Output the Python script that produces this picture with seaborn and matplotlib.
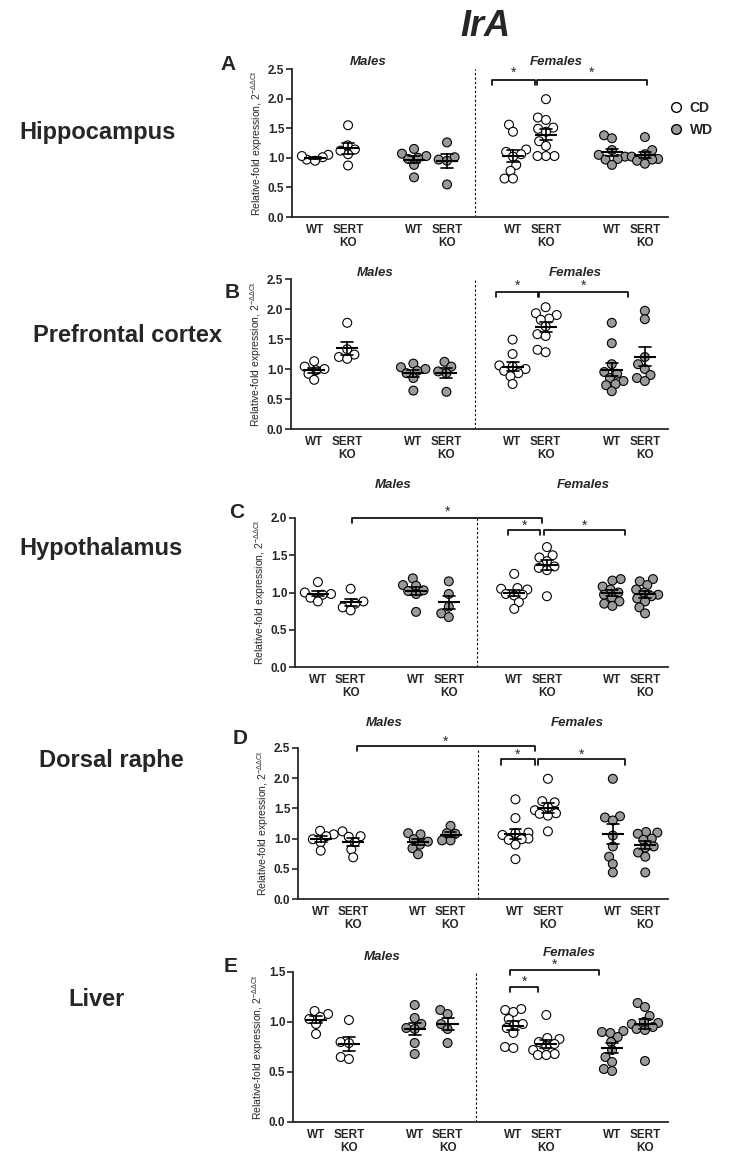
import numpy as np
import pandas as pd
import matplotlib
matplotlib.use('Agg')
import matplotlib.pyplot as plt
from matplotlib.lines import Line2D
from matplotlib.ticker import FormatStrFormatter, MultipleLocator
import seaborn as sns

# group layout: males CD/WD, females CD/WD (gaps are empty categories)
groups = ['M_WT_CD', 'M_KO_CD', 'M_WT_WD', 'M_KO_WD', 'F_WT_CD', 'F_KO_CD', 'F_WT_WD', 'F_KO_WD']
diets = ['CD', 'CD', 'WD', 'WD', 'CD', 'CD', 'WD', 'WD']
order = ['M_WT_CD', 'M_KO_CD', 'gap1', 'M_WT_WD', 'M_KO_WD', 'gap2',
         'F_WT_CD', 'F_KO_CD', 'gap3', 'F_WT_WD', 'F_KO_WD']
tick_labels = ['WT', 'SERT\nKO'] * 4
regions = ['Hippocampus', 'Prefrontal cortex', 'Hypothalamus', 'Dorsal raphe', 'Liver']
letters = ['A', 'B', 'C', 'D', 'E']
ymaxes = [2.5, 2.5, 2.0, 2.5, 1.5]

hippocampus = [
    [0.97, 1.05, 0.95, 1.03, 1.01],
    [1.55, 1.21, 1.14, 1.06, 0.87, 1.12],
    [1.15, 1.07, 1.03, 1.00, 0.98, 0.88, 0.67],
    [1.26, 1.01, 0.97, 0.95, 0.55],
    [1.56, 1.44, 1.14, 1.10, 1.06, 1.02, 0.88, 0.78, 0.65, 0.65],
    [1.99, 1.68, 1.64, 1.51, 1.49, 1.44, 1.28, 1.20, 1.03, 1.03, 1.03],
    [1.38, 1.33, 1.13, 1.05, 1.02, 0.98, 0.97, 0.88],
    [1.35, 1.13, 1.06, 1.02, 0.98, 0.97, 0.95, 0.90],
]
prefrontal = [
    [1.13, 1.04, 1.00, 0.98, 0.92, 0.82],
    [1.77, 1.33, 1.24, 1.20, 1.17],
    [1.09, 1.03, 1.00, 0.97, 0.93, 0.85, 0.64],
    [1.12, 1.04, 0.96, 0.93, 0.62],
    [1.49, 1.25, 1.06, 1.04, 1.00, 0.97, 0.93, 0.88, 0.75],
    [2.03, 1.93, 1.90, 1.84, 1.82, 1.71, 1.58, 1.55, 1.32, 1.28],
    [1.77, 1.43, 1.08, 0.95, 0.92, 0.85, 0.80, 0.75, 0.73, 0.63],
    [1.97, 1.83, 1.20, 1.08, 1.00, 0.90, 0.85, 0.80],
]
hypothalamus = [
    [1.14, 1.00, 0.98, 0.97, 0.93, 0.88],
    [1.05, 0.88, 0.85, 0.80, 0.76],
    [1.19, 1.10, 1.09, 1.03, 1.02, 0.98, 0.74],
    [1.15, 0.98, 0.81, 0.72, 0.67],
    [1.25, 1.06, 1.05, 1.04, 0.98, 0.97, 0.96, 0.87, 0.78],
    [1.61, 1.50, 1.47, 1.42, 1.35, 1.33, 1.30, 0.95],
    [1.18, 1.16, 1.08, 1.04, 1.00, 0.97, 0.93, 0.88, 0.85, 0.82],
    [1.18, 1.15, 1.10, 1.04, 1.00, 0.97, 0.95, 0.92, 0.88, 0.80, 0.72],
]
dorsal_raphe = [
    [1.13, 1.07, 1.04, 0.99, 0.94, 0.80],
    [1.12, 1.04, 1.03, 0.94, 0.82, 0.69],
    [1.09, 1.07, 0.99, 0.95, 0.90, 0.84, 0.74],
    [1.21, 1.09, 1.08, 0.97, 0.97],
    [1.65, 1.34, 1.10, 1.09, 1.06, 1.00, 0.99, 0.98, 0.90, 0.66],
    [1.99, 1.62, 1.60, 1.52, 1.47, 1.42, 1.41, 1.38, 1.12],
    [1.99, 1.37, 1.35, 1.30, 1.05, 0.87, 0.70, 0.58, 0.44],
    [1.11, 1.10, 1.08, 1.00, 0.98, 0.87, 0.85, 0.77, 0.70, 0.44],
]
liver = [
    [1.11, 1.08, 1.05, 1.03, 0.98, 0.88],
    [1.02, 0.80, 0.79, 0.65, 0.63],
    [1.17, 1.04, 0.98, 0.94, 0.93, 0.79, 0.68],
    [1.12, 1.08, 0.98, 0.93, 0.79],
    [1.13, 1.12, 1.10, 1.03, 0.98, 0.97, 0.94, 0.89, 0.75, 0.74],
    [1.07, 0.84, 0.83, 0.80, 0.78, 0.76, 0.72, 0.68, 0.67, 0.67],
    [0.91, 0.90, 0.89, 0.85, 0.80, 0.72, 0.65, 0.60, 0.53, 0.51],
    [1.19, 1.15, 1.06, 1.00, 0.99, 0.98, 0.95, 0.93, 0.92, 0.61],
]
panel_values = [hippocampus, prefrontal, hypothalamus, dorsal_raphe, liver]

# significance brackets: (x start, x end, bracket height, star height)
brackets = [
    [(5.35, 6.67, 2.32, 2.44), (6.73, 10.06, 2.32, 2.44)],
    [(5.5, 6.77, 2.28, 2.38), (6.8, 9.5, 2.28, 2.38)],
    [(1.05, 6.85, 2.0, 2.08), (5.8, 6.8, 1.84, 1.90), (6.9, 9.4, 1.84, 1.90)],
    [(1.12, 6.6, 2.53, 2.61), (5.55, 6.6, 2.31, 2.38), (6.7, 9.36, 2.31, 2.38)],
    [(5.9, 8.6, 1.52, 1.57), (5.9, 6.75, 1.35, 1.40)],
]
# sex labels: (males x, males y, females x, females y)
sex_labels = [
    (1.6, 2.62, 7.3, 2.62),
    (1.85, 2.6, 7.9, 2.6),
    (2.3, 2.44, 8.1, 2.44),
    (1.95, 2.91, 7.9, 2.91),
    (2.0, 1.65, 7.7, 1.69),
]

W, H = 742, 1163
axes_px = [(292, 69, 217), (291, 279, 429), (295, 518, 667), (298, 748, 899), (293, 972, 1122)]
label_px = [(98, 133), (127, 335), (101, 548), (111, 760), (97, 1000)]
letter_px = [(228, 64), (232, 293), (237, 512), (240, 738), (231, 966)]

sns.set_style('ticks')
plt.rcParams['font.family'] = ['Liberation Sans', 'DejaVu Sans']
plt.rcParams['mathtext.default'] = 'regular'

diet_colors = {'CD': 'white', 'WD': '#9a9a9a'}
point_size = 6.4   # drawn marker diameter (pt)
swarm_size = 5.0   # smaller size used for placing the swarm, so points overlap a bit

fig = plt.figure(figsize=(W / 100, H / 100), dpi=100)
axes = []

for i, values in enumerate(panel_values):
    left, top, bottom = axes_px[i]
    ax = fig.add_axes([left / W, 1 - bottom / H, (668 - left) / W, (bottom - top) / H])
    axes.append(ax)

    rows = []
    for g, d, vals in zip(groups, diets, values):
        for v in vals:
            rows.append({'group': g, 'diet': d, 'value': v})
    df = pd.DataFrame(rows)

    sns.swarmplot(data=df, x='group', y='value', hue='diet', order=order,
                  palette=diet_colors, size=swarm_size, edgecolor='black', linewidth=0.8,
                  legend=False, ax=ax)
    sns.pointplot(data=df, x='group', y='value', order=order, errorbar='se',
                  capsize=0.36, color='black', linestyle='none', marker='_',
                  markersize=16, markeredgewidth=1.5, err_kws={'linewidth': 1.2}, ax=ax)

    ymax = ymaxes[i]
    ax.set_ylim(0, ymax)
    ax.set_xlim(-0.7, 10.7)
    ax.axvline(4.85, color='black', linestyle=(0, (2, 2)), linewidth=0.8)

    ax.set_xticks([0, 1, 3, 4, 6, 7, 9, 10])
    ax.set_xticklabels(tick_labels, fontweight='bold', fontsize=8.5, linespacing=1.1)
    ax.yaxis.set_major_locator(MultipleLocator(0.5))
    ax.yaxis.set_major_formatter(FormatStrFormatter('%.1f'))
    for t in ax.get_yticklabels():
        t.set_fontweight('bold')
        t.set_fontsize(8.5)
    ax.tick_params(axis='x', length=0, pad=5)
    ax.tick_params(axis='y', length=4, width=1.2, pad=1.5)
    ax.set_xlabel('')
    ax.set_ylabel(r'Relative-fold expression, 2$^{-\Delta\Delta Ct}$', fontsize=7.5, labelpad=2)
    sns.despine(ax=ax)
    for s in ['left', 'bottom']:
        ax.spines[s].set_linewidth(1.3)

    d = ymax * 0.035
    for x1, x2, yb, ys in brackets[i]:
        ax.plot([x1, x1, x2, x2], [yb - d, yb, yb, yb - d], color='black',
                linewidth=1.2, clip_on=False)
        ax.text((x1 + x2) / 2, ys, '*', ha='center', va='center', fontsize=10,
                clip_on=False)

    mx, my, fx, fy = sex_labels[i]
    ax.text(mx, my, 'Males', ha='center', va='center', fontsize=9.5,
            fontweight='bold', fontstyle='italic', clip_on=False)
    ax.text(fx, fy, 'Females', ha='center', va='center', fontsize=9.5,
            fontweight='bold', fontstyle='italic', clip_on=False)

    lx, ly = label_px[i]
    fig.text(lx / W, 1 - ly / H, regions[i], ha='center', va='center',
             fontsize=17, fontweight='bold')
    px, py = letter_px[i]
    fig.text(px / W, 1 - py / H, letters[i], ha='center', va='center',
             fontsize=15, fontweight='bold')

fig.text(485 / W, 1 - 27 / H, 'IrA', ha='center', va='center', fontsize=26,
         fontweight='bold', fontstyle='italic')

handles = [Line2D([], [], linestyle='none', marker='o', markersize=7,
                  markerfacecolor=diet_colors[k], markeredgecolor='black',
                  markeredgewidth=1.0) for k in ['CD', 'WD']]
fig.legend(handles, ['CD', 'WD'], loc='center left',
           bbox_to_anchor=(655 / W, 1 - 119 / H), frameon=False,
           prop={'weight': 'bold', 'size': 10}, handletextpad=0.4,
           labelspacing=0.6, handlelength=1.2)

# lay out the swarms once, then freeze them and enlarge the markers
fig.canvas.draw()
for ax in axes:
    for coll in ax.collections:
        coll.__dict__.pop('draw', None)
        coll.set_sizes(np.full(len(coll.get_offsets()), point_size ** 2))
        coll.set_zorder(1.5)

fig.savefig('out.png', dpi=100)
